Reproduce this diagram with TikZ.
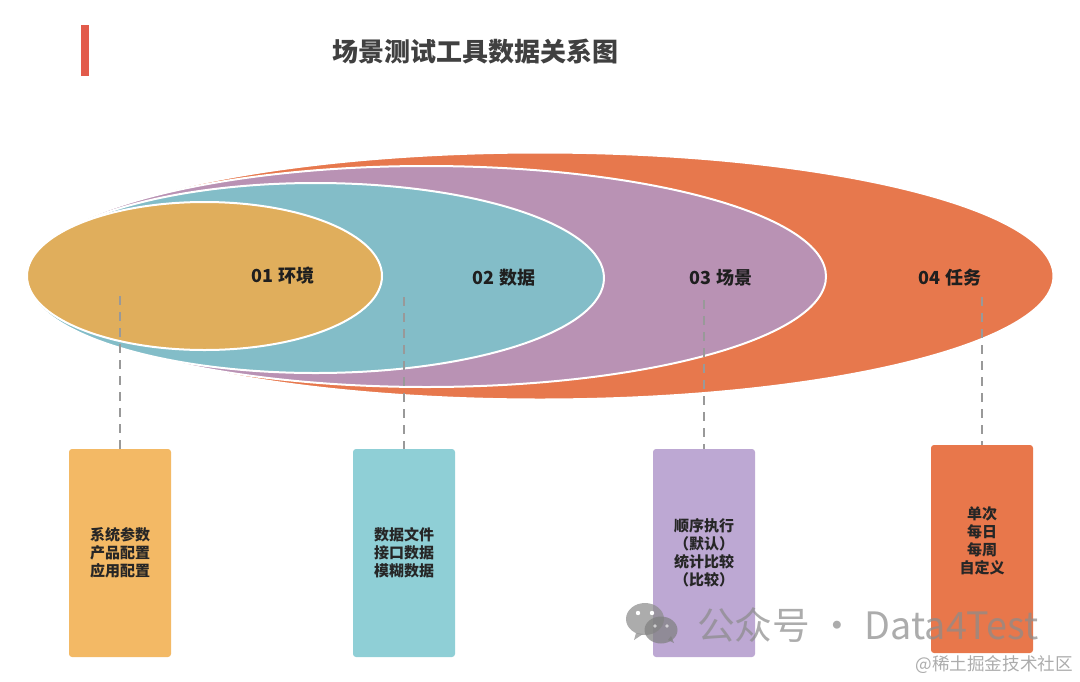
\documentclass[tikz,border=0pt]{standalone}
\usepackage{fontspec}
\usepackage{xcolor}
\usepackage{tikz}
\setmainfont{Noto Sans CJK SC}
\usetikzlibrary{
positioning,
shapes.geometric
}

\definecolor{envfill}{HTML}{E0AE5C}
\definecolor{datafill}{HTML}{83BDC8}
\definecolor{scenefill}{HTML}{B992B4}
\definecolor{taskfill}{HTML}{E7784D}
\definecolor{envbox}{HTML}{F3B965}
\definecolor{databox}{HTML}{8FCFD6}
\definecolor{scenebox}{HTML}{BDA8D3}
\definecolor{taskbox}{HTML}{E8774B}
\definecolor{barred}{HTML}{E25B4B}

\begin{document}
\begin{tikzpicture}[
x=1pt,y=-1pt,
oval/.style={
ellipse,
draw=white,
line width=2pt,
inner sep=0pt
},
box/.style={
rounded corners=3pt,
minimum width=102pt,
minimum height=208pt,
inner sep=0pt,
align=center,
text=black!85,
font=\fontsize{15}{18}\selectfont\bfseries
},
tag/.style={
text=black!88,
inner sep=0pt,
font=\fontsize{18}{22}\selectfont\bfseries
},
dashline/.style={
draw=black!40,
line width=1.1pt,
dash pattern=on 9pt off 7pt
},
wmark/.style={
text=black!45,
opacity=0.72,
inner sep=0pt
}
]

\useasboundingbox (0,0) rectangle (1080,681);

\fill[barred] (81,25) rectangle (89,76);
\node[inner sep=0pt,text=black!75,font=\fontsize{26}{30}\selectfont\bfseries] (title) at (475,52) {场景测试工具数据关系图};

\node[oval,fill=taskfill,minimum width=1027pt,minimum height=247pt] (task) at (540,276) {};
\node[oval,fill=scenefill,minimum width=799pt,minimum height=221pt] (scene) at (426.5,276.5) {};
\node[oval,fill=datafill,minimum width=577pt,minimum height=190pt] (data) at (315.5,278) {};
\node[oval,fill=envfill,minimum width=355pt,minimum height=148pt] (env) at (204.5,276) {};

\node[tag] (envtag) at (283,276) {01 环境};
\node[tag] (datatag) at (504,278) {02 数据};
\node[tag] (scenetag) at (721,278) {03 场景};
\node[tag] (tasktag) at (950,278) {04 任务};

\node[box,fill=envbox] (envnote) at (120,553) {系统参数\\产品配置\\应用配置};
\node[box,fill=databox] (datanote) at (404,553) {数据文件\\接口数据\\模糊数据};
\node[box,fill=scenebox] (scenenote) at (704,553) {顺序执行\\（默认）\\统计比较\\（比较）};
\node[box,fill=taskbox] (tasknote) at (982,549) {单次\\每日\\每周\\自定义\\[0pt]};

\coordinate (envdrop) at (120,296);
\coordinate (datadrop) at (404,297);
\coordinate (scenedrop) at (704,300);
\coordinate (taskdrop) at (982,297);

\draw[dashline] (envdrop) -- (envnote.north);
\draw[dashline] (datadrop) -- (datanote.north);
\draw[dashline] (scenedrop) -- (scenenote.north);
\draw[dashline] (taskdrop) -- (tasknote.north);

% watermark
\fill[black!45,opacity=0.72] (645,619) ellipse (19pt and 16pt);
\fill[black!45,opacity=0.72] (636,633) -- (634,640) -- (643,634) -- cycle;
\fill[black!50,opacity=0.72] (661,630) ellipse (16.5pt and 13.5pt);
\fill[black!50,opacity=0.72] (668,640) -- (674,643) -- (671,636) -- cycle;
\fill[white] (638,613) circle (2.2pt) (652,613) circle (2.2pt);
\fill[white,opacity=0.6] (655,626) circle (1.8pt) (667,626) circle (1.8pt);
\node[wmark,font=\fontsize{37.7}{42}\selectfont,anchor=west] (brand) at (697,625) {公众号 · Data4Test};
\node[wmark,font=\fontsize{17.6}{20}\selectfont,anchor=east] (site) at (1073,665) {@稀土掘金技术社区};

\end{tikzpicture}
\end{document}
